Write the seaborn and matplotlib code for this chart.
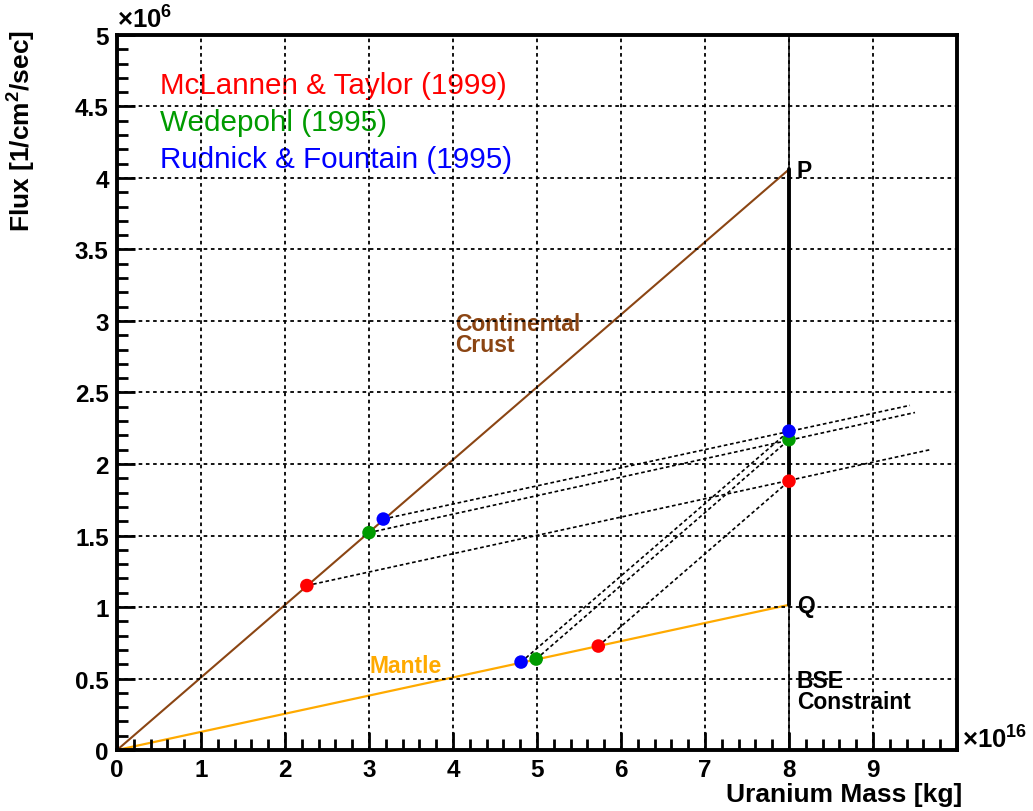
import numpy as np
import pandas as pd
import matplotlib
matplotlib.use('Agg')
import matplotlib.pyplot as plt
from matplotlib.ticker import MultipleLocator
import seaborn as sns

# reservoir models (flux in 1e6 /cm2/s, mass in 1e16 kg)
models = ['McLannen & Taylor (1999)', 'Wedepohl (1995)', 'Rudnick & Fountain (1995)']
colors = ['#ff0000', '#009b00', '#0000ff']
crust_mass = [2.26, 3.00, 3.17]
crust_flux = [1.15, 1.52, 1.615]
mantle_mass = [5.73, 4.99, 4.81]
mantle_flux = [0.727, 0.636, 0.615]
bse_mass = [8.0, 8.0, 8.0]
bse_flux = [1.88, 2.17, 2.23]
ext_mass = [9.68, 9.50, 9.44]
ext_flux = [2.10, 2.36, 2.41]

# reservoir lines
crust_line_mass = [0.0, 8.0]
crust_line_flux = [0.0, 4.06]
mantle_line_mass = [0.0, 8.0]
mantle_line_flux = [0.0, 1.015]
bse_full = [0.0, 5.0]
bse_range = [1.015, 4.06]

x_ticks = list(range(11))
x_labels = [str(v) for v in range(10)] + ['']
y_ticks = [0, 0.5, 1, 1.5, 2, 2.5, 3, 3.5, 4, 4.5, 5]
y_labels = ['0', '0.5', '1', '1.5', '2', '2.5', '3', '3.5', '4', '4.5', '5']

sns.set_style('ticks', {'xtick.direction': 'in', 'ytick.direction': 'in'})
plt.rcParams.update({
    'font.family': ['Liberation Sans', 'DejaVu Sans'],
    'mathtext.fontset': 'custom',
    'mathtext.rm': 'Liberation Sans:bold',
    'mathtext.bf': 'Liberation Sans:bold',
    'mathtext.default': 'bf',
    'text.color': 'black',
    'axes.labelcolor': 'black',
    'xtick.color': 'black',
    'ytick.color': 'black',
    'xtick.bottom': True,
    'ytick.left': True,
})

fig = plt.figure(figsize=(10.33, 8.12), dpi=100)
ax = fig.add_axes([0.1133, 0.0751, 0.8131, 0.8806])
ax.set_xlim(0, 10)
ax.set_ylim(0, 5)

# dashed mixing lines
dash = (0, (2.2, 1.6))
for i in range(3):
    d = pd.DataFrame({'m': [crust_mass[i], ext_mass[i]], 'f': [crust_flux[i], ext_flux[i]]})
    sns.lineplot(data=d, x='m', y='f', ax=ax, color='black', linestyle=dash,
                 linewidth=1.2, estimator=None, sort=False)
    d = pd.DataFrame({'m': [mantle_mass[i], bse_mass[i]], 'f': [mantle_flux[i], bse_flux[i]]})
    sns.lineplot(data=d, x='m', y='f', ax=ax, color='black', linestyle=dash,
                 linewidth=1.2, estimator=None, sort=False)

# reservoirs
sns.lineplot(x=crust_line_mass, y=crust_line_flux, ax=ax, color='#8b4513', linewidth=1.5, estimator=None)
sns.lineplot(x=mantle_line_mass, y=mantle_line_flux, ax=ax, color='#ffaa00', linewidth=1.6, estimator=None)
sns.lineplot(x=[8.0, 8.0], y=bse_full, ax=ax, color='black', linewidth=1.1, estimator=None, sort=False)
sns.lineplot(x=[8.0, 8.0], y=bse_range, ax=ax, color='black', linewidth=2.8, estimator=None, sort=False)

# points
pts = pd.DataFrame({
    'mass': crust_mass + mantle_mass + bse_mass,
    'flux': crust_flux + mantle_flux + bse_flux,
    'model': models * 3,
})
sns.scatterplot(data=pts, x='mass', y='flux', hue='model', palette=dict(zip(models, colors)),
                s=95, edgecolor='none', ax=ax, legend=False, zorder=5)

# labels
for i, (name, c) in enumerate(zip(models, colors)):
    ax.text(0.51, [4.592, 4.336, 4.077][i], name, color=c, fontsize=21.3, va='baseline')

ax.text(4.02, 2.937, 'Continental', color='#8b4513', fontsize=16.5, fontweight='bold', va='baseline')
ax.text(4.02, 2.79, 'Crust', color='#8b4513', fontsize=16.5, fontweight='bold', va='baseline')
ax.text(3.01, 0.545, 'Mantle', color='#ffaa00', fontsize=16.5, fontweight='bold', va='baseline')
ax.text(8.095, 4.007, 'P', fontsize=16.5, fontweight='bold', va='baseline')
ax.text(8.095, 0.965, 'Q', fontsize=16.5, fontweight='bold', va='baseline')
ax.text(8.095, 0.44, 'BSE', fontsize=16.5, fontweight='bold', va='baseline')
ax.text(8.095, 0.294, 'Constraint', fontsize=16.5, fontweight='bold', va='baseline')

ax.set_xlabel('Uranium Mass [kg]', fontsize=19, fontweight='bold', loc='right')
ax.set_ylabel(r'Flux [1/cm$^{2}$/sec]', fontsize=19, fontweight='bold', loc='top')
ax.xaxis.set_label_coords(1.006, -0.045)
ax.yaxis.set_label_coords(-0.094, 1.008)

ax.text(0.0, 1.004, r'$\times10^{6}$', transform=ax.transAxes, fontsize=18.5, va='bottom', ha='left')
ax.text(1.006, 0.016, r'$\times10^{16}$', transform=ax.transAxes, fontsize=18.5, va='center', ha='left')

# axes, ticks and grid (ROOT style)
ax.set_xlim(0, 10)
ax.set_ylim(0, 5)
ax.set_xticks(x_ticks)
ax.set_xticklabels(x_labels, fontweight='bold', fontsize=17.5)
ax.set_yticks(y_ticks)
ax.set_yticklabels(y_labels, fontweight='bold', fontsize=17.5)
ax.xaxis.set_minor_locator(MultipleLocator(0.2))
ax.yaxis.set_minor_locator(MultipleLocator(0.1))
ax.grid(True, which='major', color='black', linestyle=(0, (2, 2)), linewidth=1.3)
ax.tick_params(which='major', direction='in', length=13, width=2, bottom=True, left=True,
               top=False, right=False, pad=6)
ax.tick_params(which='minor', direction='in', length=8, width=2, bottom=True, left=True,
               top=False, right=False)
ax.set_axisbelow(False)
ax.xaxis.set_zorder(4)
ax.yaxis.set_zorder(4)
for sp in ax.spines.values():
    sp.set_linewidth(2.8)
    sp.set_color('black')

fig.savefig('out.png', dpi=100)
